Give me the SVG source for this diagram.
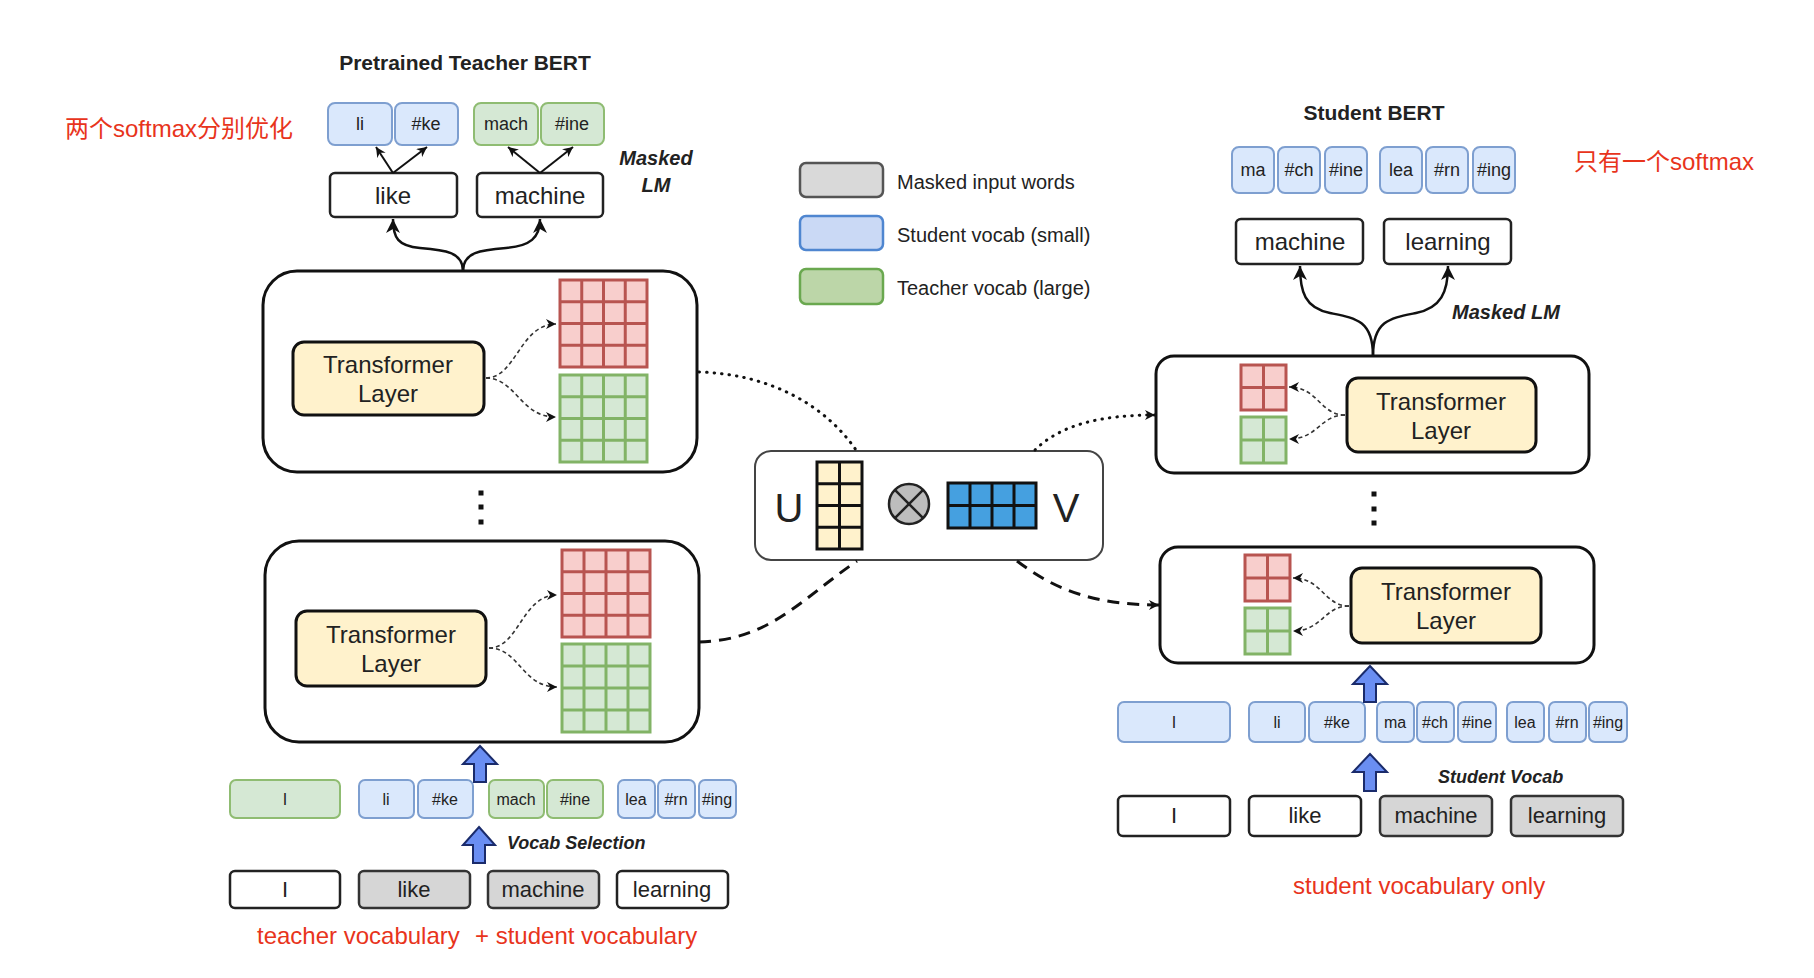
<svg xmlns="http://www.w3.org/2000/svg" width="1814" height="978" viewBox="0 0 1814 978">
<style>
text{font-family:"Liberation Sans",Arial,"Noto Sans CJK SC",sans-serif;fill:#222}
.c{text-anchor:middle}
.t16{font-size:16px}.t18{font-size:18px}.t20{font-size:20px}.t22{font-size:22px}.t24{font-size:24px}
.bi{font-weight:bold;font-style:italic}
.b{font-weight:bold}
.red{fill:#e8341c;font-size:24px}
.tb{fill:#dae8fc;stroke:#7e9fd0;stroke-width:2}
.tg{fill:#d5e8d4;stroke:#8fbc72;stroke-width:2}
.tm{fill:#d6d6d6;stroke:#333;stroke-width:2.5}
.tw{fill:#fff;stroke:#222;stroke-width:2.5}
.outer{fill:#fff;stroke:#111;stroke-width:3}
.tl{fill:#fff2cc;stroke:#111;stroke-width:3}
.gr{fill:#f8cecc;stroke:#b85450;stroke-width:3}
.gg{fill:#d5e8d4;stroke:#82b366;stroke-width:3}
.gy{fill:#fff2cc;stroke:#111;stroke-width:3}
.gbl{fill:#45a0e0;stroke:#111;stroke-width:3}
.blk{fill:#6a8ef2;stroke:#1a2b6b;stroke-width:2}
.line{fill:none;stroke:#111;stroke-width:2.5}
.thin{fill:none;stroke:#111;stroke-width:2}
.idash{fill:none;stroke:#333;stroke-width:1.6;stroke-dasharray:4 3}
.dot{fill:none;stroke:#111;stroke-width:3;stroke-dasharray:0.5 7;stroke-linecap:round}
.dash{fill:none;stroke:#111;stroke-width:3;stroke-dasharray:12 8}
</style>
<defs>
<marker id="big" markerUnits="userSpaceOnUse" markerWidth="16" markerHeight="14" refX="14" refY="7" orient="auto">
<path d="M0,0 L14,7 L0,14 L4,7 Z" fill="#111"/>
</marker>
<marker id="sm" markerUnits="userSpaceOnUse" markerWidth="12" markerHeight="10" refX="10" refY="5" orient="auto">
<path d="M0,0 L10,5 L0,10 L3,5 Z" fill="#111"/>
</marker>
<marker id="dm" markerUnits="userSpaceOnUse" markerWidth="12" markerHeight="10" refX="10" refY="5" orient="auto">
<path d="M0,0 L10,5 L0,10 L3,5 Z" fill="#111"/>
</marker>
</defs>

<rect width="1814" height="978" fill="#fff"/>

<!-- Annotations -->
<g id="annotations">
<text class="red" x="65" y="137">两个softmax分别优化</text>
<text class="red" x="1574" y="170">只有一个softmax</text>
<text class="red" x="257" y="944">teacher vocabulary</text>
<text class="red" x="475" y="944">+ student vocabulary</text>
<text class="red" x="1293" y="894">student vocabulary only</text>
</g>

<!-- Titles -->
<g id="titles">
<text class="c b" x="465" y="70" style="font-size:21px">Pretrained Teacher BERT</text>
<text class="c b" x="1374" y="120" style="font-size:21px">Student BERT</text>
<text class="c bi t20" x="656" y="165">Masked</text>
<text class="c bi t20" x="656" y="192">LM</text>
<text class="bi t20" x="1452" y="319">Masked LM</text>
<text class="bi t18" x="507" y="849">Vocab Selection</text>
<text class="bi t18" x="1438" y="783">Student Vocab</text>
</g>

<!-- Legend -->
<g id="legend">
<rect x="800" y="163" width="83" height="34" rx="6" fill="#d9d9d9" stroke="#555" stroke-width="2.5"/>
<rect x="800" y="216" width="83" height="34" rx="6" fill="#cad9f5" stroke="#4f86d0" stroke-width="2.5"/>
<rect x="800" y="269" width="83" height="35" rx="6" fill="#bcd6a8" stroke="#6aa84f" stroke-width="2.5"/>
<text class="t20" x="897" y="189">Masked input words</text>
<text class="t20" x="897" y="242">Student vocab (small)</text>
<text class="t20" x="897" y="295">Teacher vocab (large)</text>
</g>

<!-- Teacher output tokens -->
<g id="teacher-out-tokens">
<rect class="tb" x="328" y="103" width="64" height="42" rx="7"/><text class="c t18" x="360" y="130">li</text>
<rect class="tb" x="395" y="103" width="63" height="42" rx="7"/><text class="c t18" x="426" y="130">#ke</text>
<rect class="tg" x="474" y="103" width="64" height="42" rx="7"/><text class="c t18" x="506" y="130">mach</text>
<rect class="tg" x="541" y="103" width="63" height="42" rx="7"/><text class="c t18" x="572" y="130">#ine</text>
</g>
<g id="teacher-out-words">
<rect class="tw" x="330" y="173" width="127" height="44" rx="5"/><text class="c t24" x="393" y="204">like</text>
<rect class="tw" x="477" y="173" width="126" height="44" rx="5"/><text class="c t24" x="540" y="204">machine</text>
</g>

<!-- Teacher upper layer -->
<g id="teacher-layer-top">
<rect class="outer" x="263" y="271" width="434" height="201" rx="34"/>
<rect class="tl" x="293" y="342" width="191" height="73" rx="11"/>
<text class="c t24" x="388" y="373">Transformer</text>
<text class="c t24" x="388" y="402">Layer</text>
<path class="gr" d="M560,280 H647 V367 H560 Z M581.75,280 V367 M603.5,280 V367 M625.25,280 V367 M560,301.75 H647 M560,323.5 H647 M560,345.25 H647"/>
<path class="gg" d="M560,375 H647 V462 H560 Z M581.75,375 V462 M603.5,375 V462 M625.25,375 V462 M560,396.75 H647 M560,418.5 H647 M560,440.25 H647"/>
<path class="idash" marker-end="url(#dm)" d="M486,378 C516,378 520,324 556,324"/>
<path class="idash" marker-end="url(#dm)" d="M486,378 C516,378 520,417 556,417"/>
</g>

<g id="teacher-dots">
<rect x="478.5" y="490.5" width="5" height="5" fill="#111"/>
<rect x="478.5" y="504.5" width="5" height="5" fill="#111"/>
<rect x="478.5" y="519.5" width="5" height="5" fill="#111"/>
</g>

<!-- Teacher lower layer -->
<g id="teacher-layer-bottom">
<rect class="outer" x="265" y="541" width="434" height="201" rx="34"/>
<rect class="tl" x="296" y="611" width="190" height="75" rx="11"/>
<text class="c t24" x="391" y="643">Transformer</text>
<text class="c t24" x="391" y="672">Layer</text>
<path class="gr" d="M562,550 H650 V637 H562 Z M584,550 V637 M606,550 V637 M628,550 V637 M562,571.75 H650 M562,593.5 H650 M562,615.25 H650"/>
<path class="gg" d="M562,644 H650 V732 H562 Z M584,644 V732 M606,644 V732 M628,644 V732 M562,666 H650 M562,688 H650 M562,710 H650"/>
<path class="idash" marker-end="url(#dm)" d="M489,648 C519,648 522,595 557,595"/>
<path class="idash" marker-end="url(#dm)" d="M489,648 C519,648 522,687 557,687"/>
</g>

<!-- Teacher input tokens -->
<g id="teacher-in-tokens">
<rect class="tg" x="230" y="780" width="110" height="38" rx="6"/><text class="c t16" x="285" y="805">I</text>
<rect class="tb" x="359" y="780" width="55" height="38" rx="6"/><text class="c t16" x="386" y="805">li</text>
<rect class="tb" x="418" y="780" width="55" height="38" rx="6"/><text class="c t16" x="445" y="805">#ke</text>
<rect class="tg" x="489" y="780" width="55" height="38" rx="6"/><text class="c t16" x="516" y="805">mach</text>
<rect class="tg" x="547" y="780" width="56" height="38" rx="6"/><text class="c t16" x="575" y="805">#ine</text>
<rect class="tb" x="618" y="780" width="37" height="38" rx="6"/><text class="c t16" x="636" y="805">lea</text>
<rect class="tb" x="658" y="780" width="37" height="38" rx="6"/><text class="c t16" x="676" y="805">#rn</text>
<rect class="tb" x="699" y="780" width="37" height="38" rx="6"/><text class="c t16" x="717" y="805">#ing</text>
</g>
<g id="teacher-in-words">
<rect class="tw" x="230" y="871" width="110" height="37" rx="5"/><text class="c t22" x="285" y="897">I</text>
<rect class="tm" x="359" y="871" width="111" height="37" rx="5"/><text class="c t22" x="414" y="897">like</text>
<rect class="tm" x="488" y="871" width="111" height="37" rx="5"/><text class="c t22" x="543" y="897">machine</text>
<rect class="tw" x="617" y="871" width="111" height="37" rx="5"/><text class="c t22" x="672" y="897">learning</text>
</g>

<!-- Center factorization -->
<g id="factorization">
<rect x="755" y="451" width="348" height="109" rx="16" fill="#fff" stroke="#444" stroke-width="2"/>
<text class="c" x="789" y="522" style="font-size:40px">U</text>
<path class="gy" d="M817,462 H862 V549 H817 Z M839.5,462 V549 M817,483.75 H862 M817,505.5 H862 M817,527.25 H862"/>
<circle cx="909" cy="504" r="20" fill="#bdbdbd" stroke="#222" stroke-width="2.5"/>
<path d="M894.9,489.9 L923.1,518.1 M923.1,489.9 L894.9,518.1" stroke="#222" stroke-width="2.5"/>
<path class="gbl" d="M948,483 H1036 V528 H948 Z M970,483 V528 M992,483 V528 M1014,483 V528 M948,505.5 H1036"/>
<text class="c" x="1066" y="522" style="font-size:40px">V</text>
</g>

<!-- Student output tokens -->
<g id="student-out-tokens">
<rect class="tb" x="1232" y="147" width="42" height="46" rx="7"/><text class="c t18" x="1253" y="176">ma</text>
<rect class="tb" x="1278" y="147" width="42" height="46" rx="7"/><text class="c t18" x="1299" y="176">#ch</text>
<rect class="tb" x="1325" y="147" width="42" height="46" rx="7"/><text class="c t18" x="1346" y="176">#ine</text>
<rect class="tb" x="1380" y="147" width="42" height="46" rx="7"/><text class="c t18" x="1401" y="176">lea</text>
<rect class="tb" x="1426" y="147" width="42" height="46" rx="7"/><text class="c t18" x="1447" y="176">#rn</text>
<rect class="tb" x="1473" y="147" width="42" height="46" rx="7"/><text class="c t18" x="1494" y="176">#ing</text>
</g>
<g id="student-out-words">
<rect class="tw" x="1236" y="219" width="127" height="45" rx="5"/><text class="c t24" x="1300" y="250">machine</text>
<rect class="tw" x="1384" y="219" width="127" height="45" rx="5"/><text class="c t24" x="1448" y="250">learning</text>
</g>

<!-- Student upper layer -->
<g id="student-layer-top">
<rect class="outer" x="1156" y="356" width="433" height="117" rx="18"/>
<path class="gr" d="M1241,365 H1286 V410 H1241 Z M1263.5,365 V410 M1241,387.5 H1286"/>
<path class="gg" d="M1241,417 H1286 V463 H1241 Z M1263.5,417 V463 M1241,440 H1286"/>
<rect class="tl" x="1347" y="378" width="189" height="74" rx="11"/>
<text class="c t24" x="1441" y="410">Transformer</text>
<text class="c t24" x="1441" y="439">Layer</text>
<path class="idash" marker-end="url(#dm)" d="M1345,415 C1320,415 1318,387 1289,387"/>
<path class="idash" marker-end="url(#dm)" d="M1345,415 C1320,415 1318,439 1289,439"/>
</g>

<g id="student-dots">
<rect x="1371.5" y="491.5" width="5" height="5" fill="#111"/>
<rect x="1371.5" y="506.5" width="5" height="5" fill="#111"/>
<rect x="1371.5" y="520.5" width="5" height="5" fill="#111"/>
</g>

<!-- Student lower layer -->
<g id="student-layer-bottom">
<rect class="outer" x="1160" y="547" width="434" height="116" rx="18"/>
<path class="gr" d="M1245,555 H1290 V601 H1245 Z M1267.5,555 V601 M1245,578 H1290"/>
<path class="gg" d="M1245,608 H1290 V654 H1245 Z M1267.5,608 V654 M1245,631 H1290"/>
<rect class="tl" x="1351" y="568" width="190" height="75" rx="11"/>
<text class="c t24" x="1446" y="600">Transformer</text>
<text class="c t24" x="1446" y="629">Layer</text>
<path class="idash" marker-end="url(#dm)" d="M1349,606 C1324,606 1322,578 1293,578"/>
<path class="idash" marker-end="url(#dm)" d="M1349,606 C1324,606 1322,631 1293,631"/>
</g>

<!-- Student input tokens -->
<g id="student-in-tokens">
<rect class="tb" x="1118" y="702" width="112" height="40" rx="6"/><text class="c t16" x="1174" y="728">I</text>
<rect class="tb" x="1249" y="702" width="56" height="40" rx="6"/><text class="c t16" x="1277" y="728">li</text>
<rect class="tb" x="1309" y="702" width="56" height="40" rx="6"/><text class="c t16" x="1337" y="728">#ke</text>
<rect class="tb" x="1377" y="702" width="37" height="40" rx="6"/><text class="c t16" x="1395" y="728">ma</text>
<rect class="tb" x="1417" y="702" width="37" height="40" rx="6"/><text class="c t16" x="1435" y="728">#ch</text>
<rect class="tb" x="1458" y="702" width="38" height="40" rx="6"/><text class="c t16" x="1477" y="728">#ine</text>
<rect class="tb" x="1507" y="702" width="37" height="40" rx="6"/><text class="c t16" x="1525" y="728">lea</text>
<rect class="tb" x="1549" y="702" width="37" height="40" rx="6"/><text class="c t16" x="1567" y="728">#rn</text>
<rect class="tb" x="1589" y="702" width="38" height="40" rx="6"/><text class="c t16" x="1608" y="728">#ing</text>
</g>
<g id="student-in-words">
<rect class="tw" x="1118" y="796" width="112" height="40" rx="5"/><text class="c t22" x="1174" y="823">I</text>
<rect class="tw" x="1249" y="796" width="112" height="40" rx="5"/><text class="c t22" x="1305" y="823">like</text>
<rect class="tm" x="1380" y="796" width="112" height="40" rx="5"/><text class="c t22" x="1436" y="823">machine</text>
<rect class="tm" x="1511" y="796" width="112" height="40" rx="5"/><text class="c t22" x="1567" y="823">learning</text>
</g>

<!-- Block arrows -->
<g id="block-arrows">
<polygon class="blk" points="480,746 497,764 486,764 486,782 474,782 474,764 463,764"/>
<polygon class="blk" points="479,827 495,845 485,845 485,863 473,863 473,845 463,845"/>
<polygon class="blk" points="1370,666 1387,684 1376,684 1376,702 1364,702 1364,684 1353,684"/>
<polygon class="blk" points="1370,754 1387,772 1376,772 1376,791 1364,791 1364,772 1353,772"/>
</g>

<!-- Connectors -->
<g id="connectors">
<path class="line" marker-end="url(#big)" d="M463,271 C463,252 445,250 420,248 C398,246 393,238 393,219"/>
<path class="line" marker-end="url(#big)" d="M463,271 C463,252 481,250 506,248 C530,246 540,238 540,219"/>
<path class="thin" marker-end="url(#sm)" d="M393,173 L376,147"/>
<path class="thin" marker-end="url(#sm)" d="M393,173 L427,147"/>
<path class="thin" marker-end="url(#sm)" d="M540,173 L508,147"/>
<path class="thin" marker-end="url(#sm)" d="M540,173 L573,147"/>
<path class="line" marker-end="url(#big)" d="M1373,356 C1373,320 1355,318 1330,313 C1305,308 1300,292 1300,266"/>
<path class="line" marker-end="url(#big)" d="M1373,356 C1373,320 1391,318 1416,313 C1441,308 1448,292 1448,266"/>
<path class="dot" d="M699,372 C770,374 825,405 856,450"/>
<path class="dot" marker-end="url(#sm)" d="M1035,450 C1060,425 1100,415 1155,415"/>
<path class="dash" d="M699,642 C770,640 800,600 857,561"/>
<path class="dash" marker-end="url(#sm)" d="M1017,561 C1055,590 1095,605 1159,605"/>
</g>
</svg>
